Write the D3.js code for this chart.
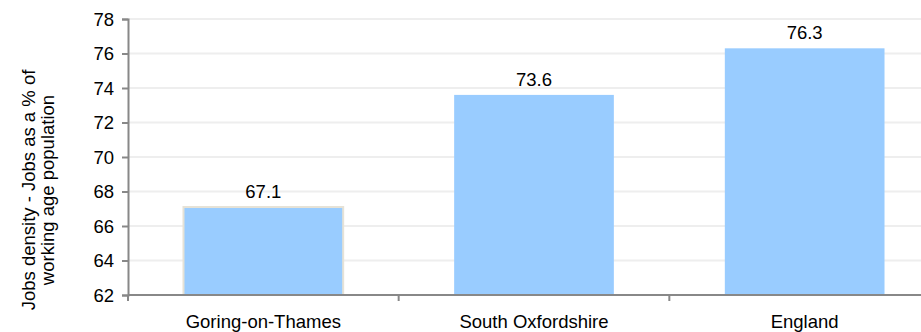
<!DOCTYPE html>
<html>
<head>
<meta charset="utf-8">
<script src="https://cdn.jsdelivr.net/npm/d3@7"></script>
<style>
  body { margin: 0; background: #fff; }
  text { font-family: "Liberation Sans", Arial, sans-serif; fill: #000; }
</style>
</head>
<body>
<svg id="chart" width="921" height="332"></svg>
<script>
const categories = ["Goring-on-Thames", "South Oxfordshire", "England"];
const values = [67.1, 73.6, 76.3];
const yTicks = [62, 64, 66, 68, 70, 72, 74, 76, 78];
const yLabel = ["Jobs density - Jobs as a % of", "working age population"];

const margin = { top: 19, right: -19, bottom: 37, left: 128 },
  W = 921, H = 332,
  w = W - margin.left - margin.right,
  h = H - margin.top - margin.bottom;

const fs = "18.5px";

const svg = d3.select("#chart");
const g = svg.append("g").attr("transform", "translate(" + margin.left + "," + margin.top + ")");

const x = d3.scaleBand().domain(categories).range([0, w]).paddingInner(0.41).paddingOuter(0.205);
const y = d3.scaleLinear().domain([62, 78]).range([h, 0]);

// gridlines
g.selectAll(".grid").data(yTicks.slice(1)).enter().append("line")
  .attr("x1", 0).attr("x2", w)
  .attr("y1", d => y(d)).attr("y2", d => y(d))
  .attr("stroke", "#eeeeee").attr("stroke-width", 2);

// bars
g.selectAll(".bar").data(values).enter().append("rect")
  .attr("x", (d, i) => x(categories[i]))
  .attr("y", d => y(d))
  .attr("width", x.bandwidth())
  .attr("height", d => h - y(d))
  .attr("fill", "#99ccff")
  .attr("stroke", (d, i) => i === 0 ? "#e6e2d6" : "none")
  .attr("stroke-width", 2);

// value labels
g.selectAll(".val").data(values).enter().append("text")
  .attr("x", (d, i) => x(categories[i]) + x.bandwidth() / 2)
  .attr("y", d => y(d) - 9)
  .attr("text-anchor", "middle")
  .style("font-size", fs)
  .text(d => d.toFixed(1));

// y axis
const yAxis = d3.axisLeft(y).tickValues(yTicks).tickSize(6).tickPadding(8);
const gY = g.append("g").call(yAxis);
gY.select(".domain").attr("stroke", "#888").attr("stroke-width", 2);
gY.selectAll(".tick line").attr("stroke", "#888").attr("stroke-width", 2);
gY.selectAll(".tick text").style("font-size", fs).attr("dy", "0.35em");

// x axis
const step = x.step();
const gX = g.append("g").attr("transform", "translate(0," + h + ")");
gX.append("line").attr("x1", 0).attr("x2", w).attr("stroke", "#888").attr("stroke-width", 2);
gX.selectAll(".xt").data(d3.range(categories.length)).enter().append("line")
  .attr("x1", d => d * step).attr("x2", d => d * step)
  .attr("y1", 0).attr("y2", 6)
  .attr("stroke", "#888").attr("stroke-width", 2);
gX.selectAll(".xl").data(categories).enter().append("text")
  .attr("x", d => x(d) + x.bandwidth() / 2)
  .attr("y", 33)
  .attr("text-anchor", "middle")
  .style("font-size", fs)
  .text(d => d);

// y label
const lab = svg.append("text")
  .attr("transform", "translate(35," + 190 + ") rotate(-90)")
  .attr("text-anchor", "middle")
  .style("font-size", fs);
lab.selectAll("tspan").data(yLabel).enter().append("tspan")
  .attr("x", 0).attr("dy", (d, i) => i === 0 ? 0 : 18.5)
  .text(d => d);
</script>
</body>
</html>
